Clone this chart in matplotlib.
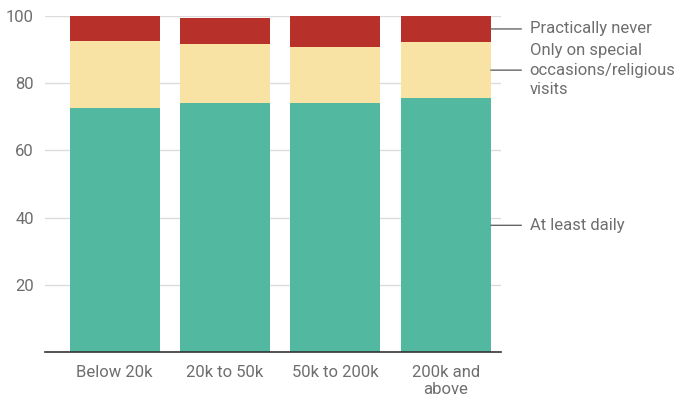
import matplotlib
matplotlib.use("Agg")
import matplotlib.pyplot as plt
import numpy as np

plt.rcParams['font.family'] = ['Roboto', 'DejaVu Sans']

categories = ["Below 20k", "20k to 50k", "50k to 200k", "200k and\nabove"]
series_names = ["At least daily", "Only on special\noccasions/religious\nvisits", "Practically never"]
at_least_daily = [72.5, 74.2, 74.2, 75.5]
special_occasions = [20.2, 17.4, 16.5, 16.8]
practically_never = [7.3, 7.9, 9.3, 7.7]
yticks = [20, 40, 60, 80, 100]

colors = ["#52b8a0", "#f9e3a4", "#b8302a"]
text_color = "#6e6e6e"

fig = plt.figure(figsize=(6.78, 3.98), dpi=100)
ax = fig.add_axes([45 / 678, 1 - 352.25 / 398, (501 - 45) / 678, (352.25 - 16) / 398])

x = np.arange(len(categories))
series = [at_least_daily, special_occasions, practically_never]
bottom = np.zeros(len(categories))
for vals, c in zip(series, colors):
    ax.bar(x, vals, width=0.815, bottom=bottom, color=c, zorder=2)
    bottom += np.array(vals)

ax.set_xlim(-0.63, 3.5)
ax.set_ylim(0, 100)
ax.set_yticks(yticks)
ax.set_yticklabels([str(v) for v in yticks])
ax.yaxis.grid(True, color="#dcdcdc", linewidth=1, zorder=0)
ax.set_axisbelow(True)
ax.tick_params(axis="y", length=0, pad=8, labelsize=12, labelcolor=text_color)
ax.tick_params(axis="x", length=0, pad=9, labelsize=12, labelcolor=text_color)
ax.set_xticks(x)
ax.set_xticklabels(categories, linespacing=1.2)
for s in ["top", "right", "left"]:
    ax.spines[s].set_visible(False)
ax.spines["bottom"].set_color("#333333")
ax.spines["bottom"].set_linewidth(1.2)

# series labels beside the last bar, each connected by a short leader line
last = len(categories) - 1
mids = [at_least_daily[last] / 2,
        at_least_daily[last] + special_occasions[last] / 2,
        at_least_daily[last] + special_occasions[last] + practically_never[last] / 2]
x_line_start = last + 0.815 / 2
for name, my in zip(series_names, mids):
    ax.annotate(name, xy=(x_line_start, my), xycoords="data",
                xytext=(28, 0), textcoords="offset points",
                va="center", ha="left", fontsize=12, color=text_color,
                linespacing=1.4, annotation_clip=False,
                arrowprops=dict(arrowstyle="-", color="#666666", lw=1,
                                shrinkA=4, shrinkB=0))

fig.savefig("out.png", dpi=100)
